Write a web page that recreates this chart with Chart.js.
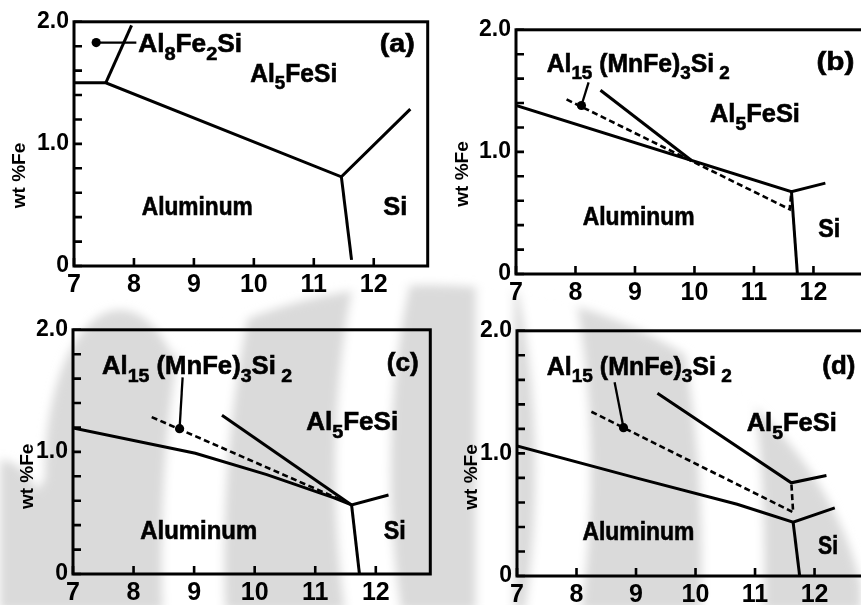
<!DOCTYPE html>
<html><head><meta charset="utf-8">
<script src="https://cdn.jsdelivr.net/npm/chart.js@4/dist/chart.umd.min.js"></script>
<style>
html,body{margin:0;padding:0;background:#fff;}
body{width:861px;height:605px;overflow:hidden;position:relative;}
canvas{position:absolute;}
svg{position:absolute;left:0;top:0;}
</style></head>
<body>
<svg width="861" height="605" viewBox="0 0 861 605">
 <defs>
  <filter id="bl" x="-20%" y="-20%" width="140%" height="140%"><feGaussianBlur stdDeviation="5"/></filter>
  <clipPath id="cp">
   <ellipse cx="430" cy="660" rx="440" ry="375"/>
   <ellipse cx="120" cy="470" rx="75" ry="160"/>
   <ellipse cx="395" cy="330" rx="60" ry="45"/>
   <ellipse cx="0" cy="600" rx="60" ry="140"/>
  </clipPath>
 </defs>
 <g filter="url(#bl)">
  <g clip-path="url(#cp)">
   <rect x="0" y="270" width="861" height="340" fill="#dadada"/>
   <ellipse cx="463" cy="560" rx="270" ry="600" stroke="#fff" stroke-width="62" fill="none"/>
   <ellipse cx="463" cy="470" rx="100" ry="320" stroke="#fff" stroke-width="55" fill="none"/>
   <rect x="476" y="280" width="38" height="330" fill="#fff"/>
  </g>
 </g>
</svg>
<canvas id="ca"></canvas><canvas id="cb"></canvas><canvas id="cc"></canvas><canvas id="cd"></canvas>
<script>
// ---------- axis ticks ----------
const X_TICKS = [7, 8, 9, 10, 11, 12];
const Y_LABEL_VALUES = [0, 1, 2];
const Y_LABEL_TEXT = ['0', '1.0', '2.0'];
const X_MIN = 7, X_MAX = 12.9, Y_MIN = 0, Y_MAX = 2;
const Y_TITLE = 'wt %Fe';

// ---------- panel (a) ----------
const aMainX = [7, 7.53, 11.46, 12.61];
const aMainY = [1.50, 1.50, 0.73, 1.285];
const aAl8X = [7.53, 7.96];
const aAl8Y = [1.50, 1.97];
const aSiX = [11.46, 11.63];
const aSiY = [0.73, 0.05];
const aPointX = [7.37];
const aPointY = [1.83];
const aLeaderX = [7.37, 8.04];
const aLeaderY = [1.83, 1.83];

// ---------- panel (b) ----------
const bMainX = [7, 11.63, 12.2];
const bMainY = [1.38, 0.675, 0.744];
const bSiX = [11.63, 11.73];
const bSiY = [0.675, 0];
const bUpperX = [8.42, 9.95];
const bUpperY = [1.505, 0.93];
const bDashX = [7.85, 11.6, 11.63];
const bDashY = [1.43, 0.53, 0.675];
const bPointX = [8.1];
const bPointY = [1.38];
const bLeaderX = [8.1, 8.22];
const bLeaderY = [1.38, 1.57];

// ---------- panel (c) ----------
const cMainX = [7, 9.02, 10.2, 11.3, 11.6, 12.21];
const cMainY = [1.196, 0.989, 0.814, 0.625, 0.566, 0.647];
const cSiX = [11.6, 11.73];
const cSiY = [0.566, 0];
const cUpperX = [9.46, 11.6];
const cUpperY = [1.30, 0.566];
const cDashX = [8.30, 11.55];
const cDashY = [1.285, 0.58];
const cPointX = [8.76];
const cPointY = [1.19];
const cLeaderX = [8.76, 8.81];
const cLeaderY = [1.19, 1.61];

// ---------- panel (d) ----------
const dMainX = [7, 9, 10.7, 11.64, 12.34];
const dMainY = [1.06, 0.80, 0.585, 0.44, 0.556];
const dSiX = [11.64, 11.75];
const dSiY = [0.44, 0];
const dUpperX = [9.36, 11.61, 12.2];
const dUpperY = [1.49, 0.76, 0.82];
const dDashX = [8.25, 11.64, 11.61];
const dDashY = [1.34, 0.52, 0.76];
const dPointX = [8.79];
const dPointY = [1.21];
const dLeaderX = [8.79, 8.64];
const dLeaderY = [1.21, 1.58];

// ---------- text ----------
const TXT_AL8 = [['Al'], ['8', 1], ['Fe'], ['2', 1], ['Si']];
const TXT_AL5 = [['Al'], ['5', 1], ['FeSi']];
const TXT_AL15 = [['Al'], ['15', 1], [' (MnFe)'], ['3', 1], ['Si'], [' 2', 1]];
const TXT_ALU = [['Aluminum']];
const TXT_SI = [['Si']];

const pts = (xs, ys) => xs.map((x, i) => ({x: x, y: ys[i]}));
const solid = (xs, ys) => ({data: pts(xs, ys), showLine: true, borderColor: '#000', borderWidth: 3, pointRadius: 0, fill: false, tension: 0, borderCapStyle: 'butt', borderJoinStyle: 'miter'});
const dashed = (xs, ys) => Object.assign(solid(xs, ys), {borderDash: [6, 3.5], borderWidth: 2.6});
const thin = (xs, ys) => Object.assign(solid(xs, ys), {borderWidth: 2.3});
const dot = (xs, ys) => ({data: pts(xs, ys), showLine: false, pointRadius: 4.6, pointBackgroundColor: '#000', pointBorderColor: '#000', pointBorderWidth: 0});

const FONT = '"Liberation Sans", Arial, Helvetica, sans-serif';

const panels = [
  { id: 'ca', area: {left: 74, top: 19.3, right: 427.7, bottom: 266.7},
    datasets: [solid(aMainX, aMainY), solid(aAl8X, aAl8Y), solid(aSiX, aSiY), thin(aLeaderX, aLeaderY), dot(aPointX, aPointY)],
    labels: [
      {segs: TXT_AL8, x: 8.07, y: 1.752, w: 104},
      {segs: TXT_AL5, x: 9.94, y: 1.509, w: 87},
      {segs: [['(a)']], x: 12.10, y: 1.752, w: 35},
      {segs: TXT_ALU, x: 8.13, y: 0.418, w: 111},
      {segs: TXT_SI, x: 12.16, y: 0.418, w: 24}
    ], title: {dx: 54, y: 0.741} },
  { id: 'cb', area: {left: 516, top: 27.3, right: 867, bottom: 274},
    datasets: [solid(bMainX, bMainY), solid(bSiX, bSiY), solid(bUpperX, bUpperY), dashed(bDashX, bDashY), thin(bLeaderX, bLeaderY), dot(bPointX, bPointY)],
    labels: [
      {segs: TXT_AL15, x: 7.516, y: 1.655, w: 183},
      {segs: [['(b)']], x: 12.05, y: 1.67, w: 38},
      {segs: TXT_AL5, x: 10.26, y: 1.243, w: 90},
      {segs: TXT_ALU, x: 8.12, y: 0.405, w: 112},
      {segs: TXT_SI, x: 12.08, y: 0.30, w: 22}
    ], title: {dx: 53, y: 0.819} },
  { id: 'cc', area: {left: 72.7, top: 326.7, right: 430, bottom: 574},
    datasets: [solid(cMainX, cMainY), solid(cSiX, cSiY), solid(cUpperX, cUpperY), dashed(cDashX, cDashY), thin(cLeaderX, cLeaderY), dot(cPointX, cPointY)],
    labels: [
      {segs: TXT_AL15, x: 7.48, y: 1.635, w: 190},
      {segs: [['(c)']], x: 12.18, y: 1.663, w: 32},
      {segs: TXT_AL5, x: 10.85, y: 1.178, w: 92},
      {segs: TXT_ALU, x: 8.11, y: 0.289, w: 117},
      {segs: TXT_SI, x: 12.13, y: 0.29, w: 22}
    ], title: {dx: 45, y: 0.80} },
  { id: 'cd', area: {left: 517.3, top: 328.3, right: 868.4, bottom: 576},
    datasets: [solid(dMainX, dMainY), solid(dSiX, dSiY), solid(dUpperX, dUpperY), dashed(dDashX, dDashY), thin(dLeaderX, dLeaderY), dot(dPointX, dPointY)],
    labels: [
      {segs: TXT_AL15, x: 7.5, y: 1.642, w: 185},
      {segs: [['(d)']], x: 12.13, y: 1.65, w: 33},
      {segs: TXT_AL5, x: 10.86, y: 1.18, w: 90},
      {segs: TXT_ALU, x: 8.1, y: 0.296, w: 112},
      {segs: TXT_SI, x: 12.06, y: 0.183, w: 20}
    ], title: {dx: 45.6, y: 0.808} }
];

const PAD_TOP = 16, PAD_RIGHT = 6, Y_W = 70, X_H = 40;
const LABEL_SIZE = 25;

function drawRich(ctx, segs, px, py, size, targetW) {
  const sub = Math.round(size * 0.74), off = size * 0.3;
  const f = s => 'bold ' + s + 'px ' + FONT;
  let w = 0;
  segs.forEach(s => { ctx.font = f(s[1] ? sub : size); w += ctx.measureText(s[0]).width; });
  const sx = targetW ? targetW / w : 1;
  ctx.save();
  ctx.translate(px, py);
  ctx.scale(sx, 1);
  ctx.fillStyle = '#000';
  ctx.strokeStyle = '#000';
  ctx.lineWidth = 0.6;
  ctx.textAlign = 'left';
  ctx.textBaseline = 'alphabetic';
  let cx = 0;
  segs.forEach(s => {
    ctx.font = f(s[1] ? sub : size);
    ctx.fillText(s[0], cx, s[1] ? off : 0);
    ctx.strokeText(s[0], cx, s[1] ? off : 0);
    cx += ctx.measureText(s[0]).width;
  });
  ctx.restore();
}

function makePlugin(p) {
  return {
    id: 'phaseDecor' + p.id,
    afterDatasetsDraw(chart) {
      const ctx = chart.ctx, a = chart.chartArea, xs = chart.scales.x, ys = chart.scales.y;
      ctx.save();
      ctx.strokeStyle = '#000';
      ctx.lineWidth = 3;
      ctx.strokeRect(a.left, a.top, a.right - a.left, a.bottom - a.top);
      ctx.lineWidth = 2.6;
      ctx.beginPath();
      ys.ticks.forEach(t => {
        const y = ys.getPixelForValue(t.value);
        ctx.moveTo(a.left, y); ctx.lineTo(a.left + 8, y);
      });
      xs.ticks.forEach(t => {
        const x = xs.getPixelForValue(t.value);
        ctx.moveTo(x, a.bottom); ctx.lineTo(x, a.bottom - 8);
      });
      ctx.stroke();
      p.labels.forEach(L => drawRich(ctx, L.segs, xs.getPixelForValue(L.x), ys.getPixelForValue(L.y), LABEL_SIZE, L.w));
      // y axis title
      ctx.translate(a.left - p.title.dx, ys.getPixelForValue(p.title.y));
      ctx.rotate(-Math.PI / 2);
      ctx.font = 'bold 19px ' + FONT;
      ctx.fillStyle = '#000';
      ctx.textAlign = 'center';
      ctx.textBaseline = 'middle';
      ctx.fillText(Y_TITLE, 0, 0);
      ctx.restore();
    }
  };
}

panels.forEach(p => {
  const cv = document.getElementById(p.id);
  const left = p.area.left - Y_W, top = p.area.top - PAD_TOP;
  const w = Math.round(p.area.right + PAD_RIGHT - left);
  const h = Math.round(p.area.bottom + X_H - top);
  cv.width = w; cv.height = h;
  cv.style.left = left + 'px'; cv.style.top = top + 'px';
  cv.style.width = w + 'px'; cv.style.height = h + 'px';
  new Chart(cv, {
    type: 'scatter',
    data: {datasets: p.datasets},
    options: {
      responsive: false, animation: false, devicePixelRatio: 1, events: [],
      layout: {padding: {left: 0, top: PAD_TOP, right: w - (p.area.right - left), bottom: 0}},
      plugins: {legend: {display: false}, tooltip: {enabled: false}},
      scales: {
        x: {
          type: 'linear', min: X_MIN, max: X_MAX,
          afterBuildTicks: s => { s.ticks = X_TICKS.map(v => ({value: v})); },
          afterFit: s => { s.height = X_H; },
          grid: {display: false, drawTicks: false},
          border: {display: false},
          ticks: {color: '#000', padding: 4, maxRotation: 0, autoSkip: false,
                  font: {family: FONT, size: 25, weight: 'bold'},
                  callback: v => String(v)}
        },
        y: {
          type: 'linear', min: Y_MIN, max: Y_MAX,
          afterFit: s => { s.width = Y_W; },
          grid: {display: false, drawTicks: false},
          border: {display: false},
          ticks: {color: '#000', padding: 5, stepSize: 0.2, autoSkip: false,
                  font: {family: FONT, size: 23, weight: 'bold'},
                  callback: v => {
                    const i = Y_LABEL_VALUES.findIndex(t => Math.abs(t - v) < 1e-6);
                    return i >= 0 ? Y_LABEL_TEXT[i] : '';
                  }}
        }
      }
    },
    plugins: [makePlugin(p)]
  });
});
</script>
</body></html>
